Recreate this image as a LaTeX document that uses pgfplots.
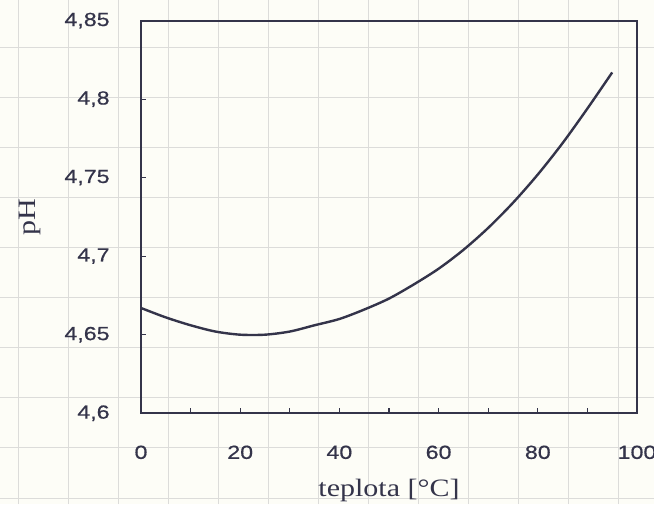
\documentclass[border=0pt]{standalone}
\usepackage{fontspec}
\setmainfont[FakeStretch=1.2]{Liberation Serif}
\newfontfamily\arialfont[FakeStretch=1.22, FakeBold=0.6]{Liberation Sans}
\usepackage{pgfplots}
\pgfplotsset{compat=1.18}
\definecolor{paper}{HTML}{FDFDF7}
\definecolor{gridc}{HTML}{DCDCDA}
\definecolor{inkc}{HTML}{34344A}
\begin{document}
\begin{tikzpicture}
% page = 654x504 px at 0.5pt per px
\useasboundingbox (0,0) rectangle (327pt,252pt);
\fill[paper] (0,0) rectangle (327pt,252pt);
% graph paper behind the chart
\begin{scope}[gridc, line width=0.5pt]
\foreach \i in {0,...,12} {\draw (9pt+\i*25pt,0) -- (9pt+\i*25pt,252pt);}
\foreach \j in {0,...,10} {\draw (0,3pt+\j*25pt) -- (327pt,3pt+\j*25pt);}
\end{scope}
\begin{axis}[
    at={(70.5pt,45.4pt)}, anchor=south west,
    scale only axis,
    width=248pt, height=196.3pt,
    xmin=0, xmax=100, ymin=4.6, ymax=4.85,
    xtick={0,20,...,100},
    minor xtick={10,30,50,70,90},
    ytick={4.6,4.65,4.7,4.75,4.8,4.85},
    tick align=inside,
    xtick pos=bottom, ytick pos=left,
    major tick length=2.5pt, minor tick length=2.5pt,
    axis line style={inkc, line width=1pt},
    every tick/.style={inkc, line width=0.6pt},
    /pgf/number format/assume math mode=true,
    /pgf/number format/use comma,
    /pgf/number format/precision=2,
    tick label style={font=\arialfont\fontsize{9.5}{11}\selectfont, text=inkc, inner sep=0pt},
    xticklabel style={anchor=north, yshift=-16pt},
    yticklabel style={anchor=east, xshift=-15.5pt},
    xlabel={teplota [°C]},
    ylabel={pH},
    label style={font=\fontsize{12.5}{14}\selectfont, text=inkc, inner sep=0pt},
    xlabel style={at={(axis description cs:0.5,0)}, anchor=north, yshift=-33pt},
    ylabel style={at={(axis description cs:-0.2238,0.5)}, anchor=center},
]
\addplot[inkc, line width=1.2pt, smooth] coordinates {
(0,4.667) (5,4.661) (10,4.656) (15,4.652) (20,4.650) (25,4.650)
(30,4.652) (35,4.656) (40,4.660) (45,4.666) (50,4.673) (55,4.682)
(60,4.692) (65,4.704) (70,4.718) (75,4.734) (80,4.752) (85,4.772)
(90,4.794) (95,4.817)
};
\end{axis}
\end{tikzpicture}
\end{document}
